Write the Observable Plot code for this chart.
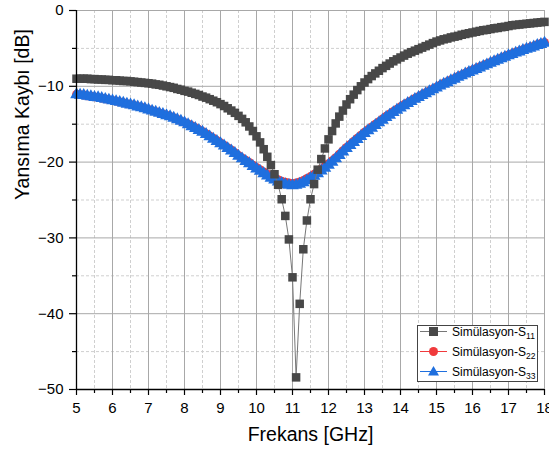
<!DOCTYPE html>
<html>
<head>
<meta charset="utf-8">
<script src="https://cdn.jsdelivr.net/npm/d3@7"></script>
<script src="https://cdn.jsdelivr.net/npm/@observablehq/plot@0.6"></script>
<style>
  html, body { margin: 0; padding: 0; background: white; }
  #wrap { position: relative; width: 549px; height: 455px; overflow: hidden; font-family: "Liberation Sans", Arial, sans-serif; }
  #legend { position: absolute; left: 417px; top: 325px; }
</style>
</head>
<body>
<div id="wrap"></div>
<script>
// ---- data ----
const freq = [5.0,5.1,5.2,5.3,5.4,5.5,5.6,5.7,5.8,5.9,
  6.0,6.1,6.2,6.3,6.4,6.5,6.6,6.7,6.8,6.9,
  7.0,7.1,7.2,7.3,7.4,7.5,7.6,7.7,7.8,7.9,
  8.0,8.1,8.2,8.3,8.4,8.5,8.6,8.7,8.8,8.9,
  9.0,9.1,9.2,9.3,9.4,9.5,9.6,9.7,9.8,9.9,
  10.0,10.1,10.2,10.3,10.4,10.5,10.6,10.7,10.8,10.9,
  11.0,11.1,11.2,11.3,11.4,11.5,11.6,11.7,11.8,11.9,
  12.0,12.1,12.2,12.3,12.4,12.5,12.6,12.7,12.8,12.9,
  13.0,13.1,13.2,13.3,13.4,13.5,13.6,13.7,13.8,13.9,
  14.0,14.1,14.2,14.3,14.4,14.5,14.6,14.7,14.8,14.9,
  15.0,15.1,15.2,15.3,15.4,15.5,15.6,15.7,15.8,15.9,
  16.0,16.1,16.2,16.3,16.4,16.5,16.6,16.7,16.8,16.9,
  17.0,17.1,17.2,17.3,17.4,17.5,17.6,17.7,17.8,17.9,
  18.0];

const s11 = [-9.0,-9.0,-9.0,-9.0,-9.05,-9.05,-9.1,-9.1,-9.15,-9.15,
  -9.2,-9.2,-9.25,-9.3,-9.3,-9.35,-9.4,-9.45,-9.5,-9.55,
  -9.6,-9.65,-9.75,-9.8,-9.9,-10.0,-10.1,-10.2,-10.35,-10.45,
  -10.6,-10.7,-10.85,-11.0,-11.15,-11.35,-11.5,-11.7,-11.9,-12.1,
  -12.35,-12.6,-12.9,-13.2,-13.5,-13.9,-14.3,-14.75,-15.3,-15.9,
  -16.6,-17.4,-18.3,-19.3,-20.4,-21.6,-23.0,-24.9,-27.1,-30.2,
  -35.2,-48.4,-38.7,-31.5,-27.7,-24.9,-22.9,-21.0,-19.6,-18.2,
  -17.0,-15.9,-14.9,-14.0,-13.2,-12.4,-11.7,-11.1,-10.5,-10.0,
  -9.5,-9.05,-8.65,-8.3,-7.95,-7.6,-7.3,-7.0,-6.7,-6.45,
  -6.2,-5.95,-5.7,-5.5,-5.3,-5.1,-4.9,-4.7,-4.5,-4.3,
  -4.1,-3.95,-3.8,-3.7,-3.55,-3.45,-3.35,-3.2,-3.1,-3.0,
  -2.9,-2.8,-2.7,-2.6,-2.55,-2.45,-2.35,-2.3,-2.2,-2.15,
  -2.05,-1.95,-1.9,-1.85,-1.8,-1.75,-1.7,-1.65,-1.6,-1.55,
  -1.5];

const s22 = [-11.05,-11.1,-11.15,-11.25,-11.3,-11.4,-11.45,-11.55,-11.65,-11.75,
  -11.85,-11.95,-12.05,-12.15,-12.3,-12.4,-12.5,-12.65,-12.75,-12.9,
  -13.05,-13.2,-13.35,-13.5,-13.65,-13.8,-13.95,-14.15,-14.35,-14.55,
  -14.75,-14.95,-15.2,-15.45,-15.7,-15.95,-16.25,-16.55,-16.85,-17.15,
  -17.45,-17.75,-18.1,-18.4,-18.75,-19.1,-19.45,-19.75,-20.05,-20.4,
  -20.7,-21.0,-21.3,-21.55,-21.85,-22.1,-22.3,-22.5,-22.65,-22.75,
  -22.8,-22.75,-22.6,-22.4,-22.15,-21.9,-21.6,-21.25,-20.9,-20.55,
  -20.2,-19.8,-19.4,-18.95,-18.5,-18.05,-17.65,-17.25,-16.85,-16.45,
  -16.05,-15.7,-15.35,-15.0,-14.65,-14.3,-13.95,-13.65,-13.3,-13.0,
  -12.7,-12.4,-12.15,-11.9,-11.6,-11.35,-11.1,-10.85,-10.6,-10.35,
  -10.1,-9.85,-9.6,-9.4,-9.15,-8.95,-8.7,-8.5,-8.25,-8.05,
  -7.85,-7.65,-7.45,-7.25,-7.05,-6.85,-6.65,-6.45,-6.25,-6.05,
  -5.85,-5.7,-5.5,-5.35,-5.15,-5.0,-4.85,-4.7,-4.5,-4.35,
  -4.2];

const s33 = [-11.1,-11.15,-11.2,-11.3,-11.35,-11.45,-11.5,-11.6,-11.7,-11.8,
  -11.9,-12.0,-12.1,-12.2,-12.35,-12.45,-12.55,-12.7,-12.8,-12.95,
  -13.1,-13.25,-13.4,-13.55,-13.7,-13.85,-14.0,-14.2,-14.4,-14.6,
  -14.8,-15.05,-15.3,-15.55,-15.8,-16.05,-16.35,-16.65,-16.95,-17.25,
  -17.55,-17.85,-18.2,-18.5,-18.85,-19.2,-19.55,-19.9,-20.2,-20.55,
  -20.9,-21.2,-21.5,-21.8,-22.1,-22.35,-22.6,-22.8,-22.95,-23.05,
  -23.1,-23.05,-22.9,-22.7,-22.45,-22.15,-21.85,-21.5,-21.15,-20.8,
  -20.4,-20.0,-19.55,-19.1,-18.65,-18.2,-17.8,-17.4,-17.0,-16.6,
  -16.2,-15.85,-15.5,-15.15,-14.8,-14.45,-14.1,-13.8,-13.45,-13.15,
  -12.85,-12.55,-12.25,-12.0,-11.7,-11.45,-11.2,-10.95,-10.7,-10.45,
  -10.2,-9.95,-9.7,-9.5,-9.25,-9.05,-8.8,-8.6,-8.35,-8.15,
  -7.95,-7.75,-7.55,-7.35,-7.15,-6.95,-6.75,-6.55,-6.35,-6.15,
  -5.95,-5.8,-5.6,-5.45,-5.25,-5.1,-4.95,-4.8,-4.6,-4.45,
  -4.3];

const xMajor = [5,6,7,8,9,10,11,12,13,14,15,16,17,18];
const xMinor = [5.5,6.5,7.5,8.5,9.5,10.5,11.5,12.5,13.5,14.5,15.5,16.5,17.5];
const yMajor = [0,-10,-20,-30,-40,-50];
const yMinor = [-5,-15,-25,-35,-45];
const seriesLabels = ["Simülasyon-S", "Simülasyon-S", "Simülasyon-S"];
const seriesSubs = ["11", "22", "33"];
const xTitle = "Frekans [GHz]";
const yTitle = "Yansıma Kaybı [dB]";

// ---- tables ----
const d11 = freq.map((f, i) => ({f, v: s11[i]}));
const d22 = freq.map((f, i) => ({f, v: s22[i]}));
const d33 = freq.map((f, i) => ({f, v: s33[i]}));

const C11 = "#484848", C22 = "#f03a3c", C33 = "#1f6fde";

const chart = Plot.plot({
  width: 549,
  height: 455,
  marginLeft: 76,
  marginRight: 5,
  marginTop: 10,
  marginBottom: 66,
  x: {domain: [5, 18]},
  y: {domain: [-50, 0]},
  style: {fontFamily: "'Liberation Sans', Arial, sans-serif", fontSize: "15px", color: "black", background: "white"},
  marks: [
    Plot.gridX(xMinor, {stroke: "#cfcfcf", strokeOpacity: 1, strokeDasharray: "3,2"}),
    Plot.gridY(yMinor, {stroke: "#cfcfcf", strokeOpacity: 1, strokeDasharray: "3,2"}),
    Plot.gridX(xMajor, {stroke: "#a8a8a8", strokeOpacity: 1}),
    Plot.gridY(yMajor, {stroke: "#a8a8a8", strokeOpacity: 1}),
    Plot.line(d22, {x: "f", y: "v", stroke: C22, strokeWidth: 1}),
    Plot.dot(d22, {x: "f", y: "v", r: 4.4, fill: C22, symbol: "circle"}),
    Plot.line(d33, {x: "f", y: "v", stroke: C33, strokeWidth: 1}),
    Plot.dot(d33, {x: "f", y: "v", r: 4.7, fill: C33, symbol: "triangle"}),
    Plot.line(d11, {x: "f", y: "v", stroke: "#777777", strokeWidth: 1}),
    Plot.dot(d11, {x: "f", y: "v", r: 4.8, fill: C11, symbol: "square"}),
    Plot.axisX(xMajor, {tickSize: 6, tickPadding: 7, fontSize: 15, label: null, strokeWidth: 1.2}),
    Plot.axisX(xMinor, {tickSize: 4, tickFormat: () => "", label: null, strokeWidth: 1.2}),
    Plot.axisY(yMajor, {tickSize: 7, tickPadding: 6, fontSize: 15, label: null, strokeWidth: 1.2}),
    Plot.axisY(yMinor, {tickSize: 4, tickFormat: () => "", label: null, strokeWidth: 1.2}),
    Plot.ruleY([-50], {stroke: "black", strokeWidth: 1.3}),
    Plot.ruleX([5], {stroke: "black", strokeWidth: 1.3}),
    Plot.text([xTitle], {frameAnchor: "bottom", dy: 51, fontSize: 19.5, fill: "black"}),
    Plot.text([yTitle], {frameAnchor: "left", dx: -54, rotate: -90, fontSize: 19.5, fill: "black"})
  ]
});
const wrap = document.getElementById("wrap");
wrap.appendChild(chart);

// ---- legend ----
const ns = "http://www.w3.org/2000/svg";
const lg = document.createElementNS(ns, "svg");
lg.setAttribute("id", "legend");
lg.setAttribute("width", 122);
lg.setAttribute("height", 58);
lg.innerHTML = `<rect x="0.5" y="0.5" width="120" height="56" fill="white" stroke="#444" stroke-width="1"/>`;
const legendColors = [C11, C22, C33];
const lineColors = ["#777777", C22, C33];
const shapes = ["square", "circle", "triangle"];
seriesLabels.forEach((lab, i) => {
  const cy = 6.5 + i * 20;
  let marker = "";
  if (shapes[i] === "square") marker = `<rect x="12" y="${cy - 4.5}" width="9" height="9" fill="${legendColors[i]}"/>`;
  else if (shapes[i] === "circle") marker = `<circle cx="16.5" cy="${cy}" r="4.5" fill="${legendColors[i]}"/>`;
  else marker = `<path d="M16.5,${cy - 5.5} L22,${cy + 4} L11,${cy + 4} Z" fill="${legendColors[i]}"/>`;
  lg.innerHTML += `<line x1="3" x2="30" y1="${cy}" y2="${cy}" stroke="${lineColors[i]}" stroke-width="1"/>` + marker +
    `<text x="35" y="${cy}" dy="0.35em" font-family="'Liberation Sans', Arial, sans-serif" font-size="12" fill="black">${lab}<tspan dy="3" font-size="8.5">${seriesSubs[i]}</tspan></text>`;
});
wrap.appendChild(lg);
</script>
</body>
</html>
